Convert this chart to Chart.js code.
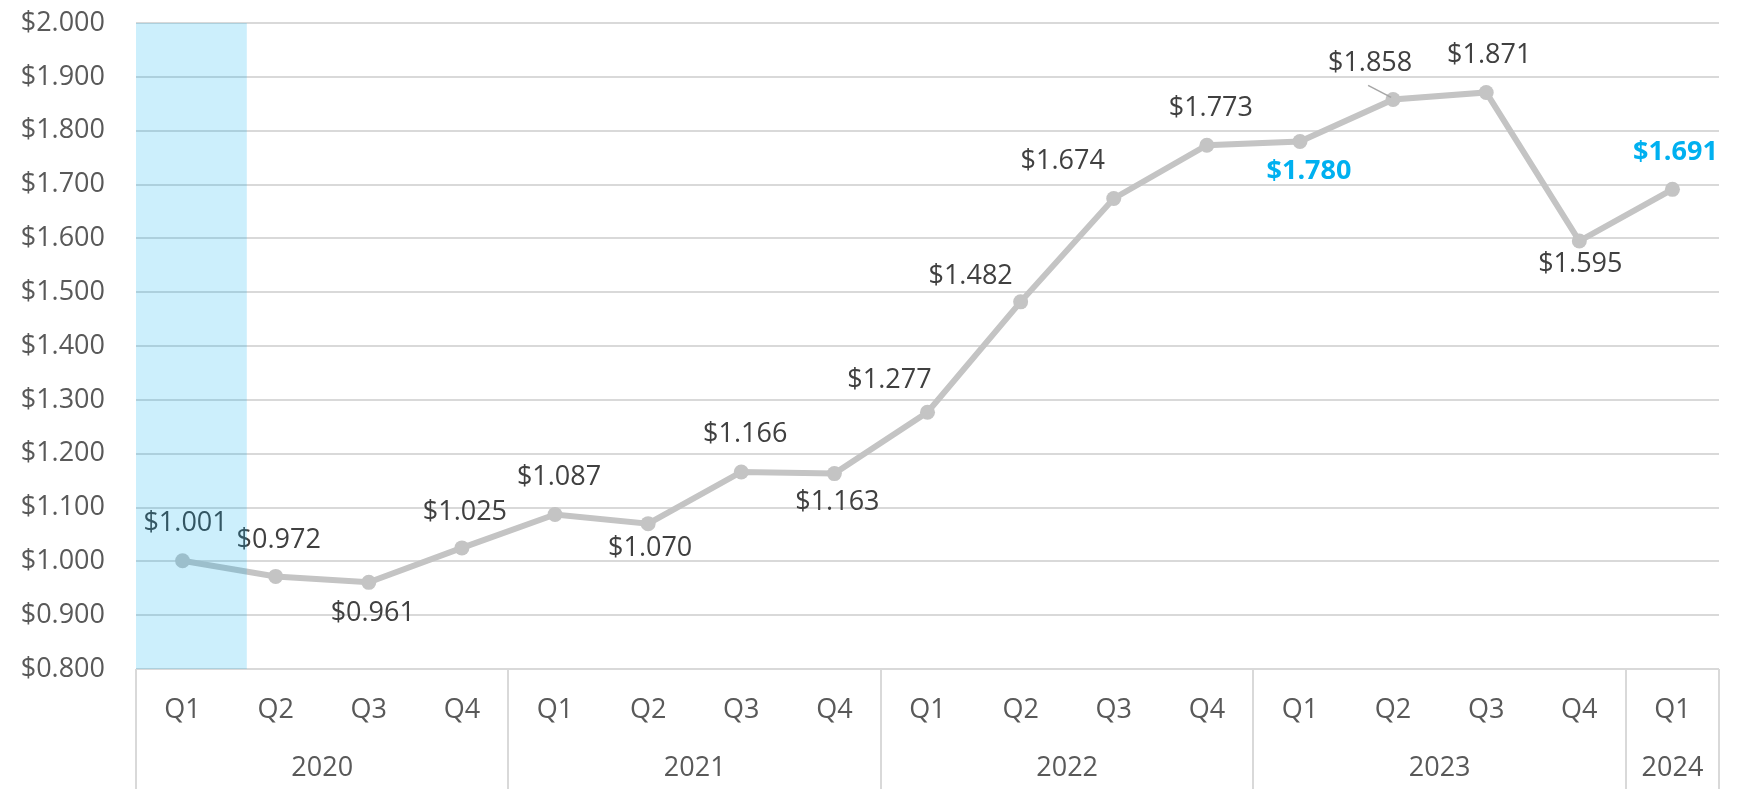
<!DOCTYPE html>
<html>
<head>
<meta charset="utf-8">
<script src="https://cdn.jsdelivr.net/npm/chart.js@4.4.1/dist/chart.umd.min.js"></script>
<style>
  html, body { margin: 0; padding: 0; background: #fff; }
</style>
</head>
<body>
<canvas id="chart" width="1742" height="789"></canvas>
<script>
"use strict";

// Data.
const QUARTERS = ["Q1", "Q2", "Q3", "Q4", "Q1", "Q2", "Q3", "Q4", "Q1", "Q2", "Q3", "Q4", "Q1", "Q2", "Q3", "Q4", "Q1"];
const YEARS = ["2020", "2021", "2022", "2023", "2024"];
const YEAR_SPANS = [4, 4, 4, 4, 1];
const VALUES = [1.001, 0.972, 0.961, 1.025, 1.087, 1.070, 1.166, 1.163, 1.277, 1.482, 1.674, 1.773, 1.780, 1.858, 1.871, 1.595, 1.691];
const Y_MIN = 0.8;
const Y_MAX = 2.0;
const Y_STEP = 0.1;

// Points whose labels are called out in blue bold.
const HIGHLIGHTED = [12, 16];

// Label offsets (px) from each point, as Excel placed them.
const LABEL_OFFSETS = [
  [3, -37], [3, -36], [4, 31], [3, -36],
  [4, -37], [2, 25], [4, -38], [3, 29],
  [-38, -32], [-50, -26], [-51, -37], [4, -37],
  [9, 30], [-23, -36], [3, -37], [1, 23],
  [3, -37],
];
const LEADER_LINES = [13];

// Shaded band over the first quarter, in category units.
const BAND = { from: -0.5, to: 0.69 };

const FONT = "'Open Sans', 'DejaVu Sans', sans-serif";
const GRID = "#D9D9D9";
const LINE = "#C4C4C4";
const LABEL = "#404040";
const AXIS_TEXT = "#595959";
const ACCENT = "#00B0F0";

const fmt = (v) => "$" + v.toFixed(3);

/** Draws the value labels, the grouped x axis and the highlight band. */
const decorations = {
  id: "decorations",
  afterDatasetsDraw(chart) {
    const ctx = chart.ctx;
    const meta = chart.getDatasetMeta(0);
    ctx.save();
    ctx.textAlign = "center";
    ctx.textBaseline = "middle";
    meta.data.forEach((pt, i) => {
      const [dx, dy] = LABEL_OFFSETS[i];
      const hot = HIGHLIGHTED.includes(i);
      ctx.font = (hot ? "bold " : "") + "27px " + FONT;
      ctx.fillStyle = hot ? ACCENT : LABEL;
      ctx.fillText(fmt(VALUES[i]), pt.x + dx, pt.y + dy);
      if (LEADER_LINES.includes(i)) {
        ctx.strokeStyle = "#A6A6A6";
        ctx.lineWidth = 1.5;
        ctx.beginPath();
        ctx.moveTo(pt.x - 25, pt.y - 14);
        ctx.lineTo(pt.x - 2, pt.y - 2);
        ctx.stroke();
      }
    });
    ctx.restore();
  },
  afterDraw(chart) {
    const ctx = chart.ctx;
    const x = chart.scales.x;
    const area = chart.chartArea;
    const step = x.getPixelForValue(1) - x.getPixelForValue(0);
    const at = (v) => x.getPixelForValue(0) + v * step;
    const bottom = chart.height;

    ctx.save();
    // group separators below the plot
    ctx.strokeStyle = GRID;
    ctx.lineWidth = 2;
    let idx = 0;
    const bounds = [-0.5];
    YEAR_SPANS.forEach((n) => { idx += n; bounds.push(idx - 0.5); });
    for (const b of bounds) {
      const px = Math.round(at(b));
      ctx.beginPath();
      ctx.moveTo(px, area.bottom);
      ctx.lineTo(px, bottom);
      ctx.stroke();
    }

    ctx.font = "27px " + FONT;
    ctx.fillStyle = AXIS_TEXT;
    ctx.textAlign = "center";
    ctx.textBaseline = "middle";
    QUARTERS.forEach((q, i) => ctx.fillText(q, at(i), area.bottom + 41));
    YEARS.forEach((y, i) => {
      const mid = (bounds[i] + bounds[i + 1]) / 2;
      ctx.fillText(y, at(mid), area.bottom + 99);
    });

    // translucent highlight band drawn over everything
    ctx.fillStyle = "rgba(0, 176, 240, 0.2)";
    ctx.fillRect(at(BAND.from), area.top, at(BAND.to) - at(BAND.from), area.bottom - area.top);
    ctx.restore();
  },
};

new Chart(document.getElementById("chart"), {
  type: "line",
  data: {
    labels: QUARTERS,
    datasets: [{
      data: VALUES,
      borderColor: LINE,
      borderWidth: 6,
      backgroundColor: LINE,
      pointRadius: 7.5,
      pointBorderWidth: 0,
      pointBackgroundColor: LINE,
      tension: 0,
    }],
  },
  options: {
    responsive: false,
    animation: false,
    events: [],
    layout: { padding: { top: 23, right: 23, left: 0, bottom: 0 } },
    plugins: { legend: { display: false }, tooltip: { enabled: false } },
    scales: {
      x: {
        type: "category",
        offset: true,
        grid: { display: false },
        border: { display: false },
        ticks: { display: false },
        afterFit: (scale) => {
          scale.height = 120;
          scale.paddingLeft = 0;
          scale.paddingRight = 0;
        },
      },
      y: {
        min: Y_MIN,
        max: Y_MAX,
        border: { display: false },
        grid: { color: GRID, lineWidth: 2, drawTicks: false },
        ticks: {
          stepSize: Y_STEP,
          padding: 31,
          color: AXIS_TEXT,
          font: { family: FONT, size: 27 },
          callback: (v) => fmt(v),
        },
        afterFit: (scale) => {
          scale.width = 136;
          scale.paddingTop = 0;
          scale.paddingBottom = 0;
        },
      },
    },
  },
  plugins: [decorations],
});
</script>
</body>
</html>
